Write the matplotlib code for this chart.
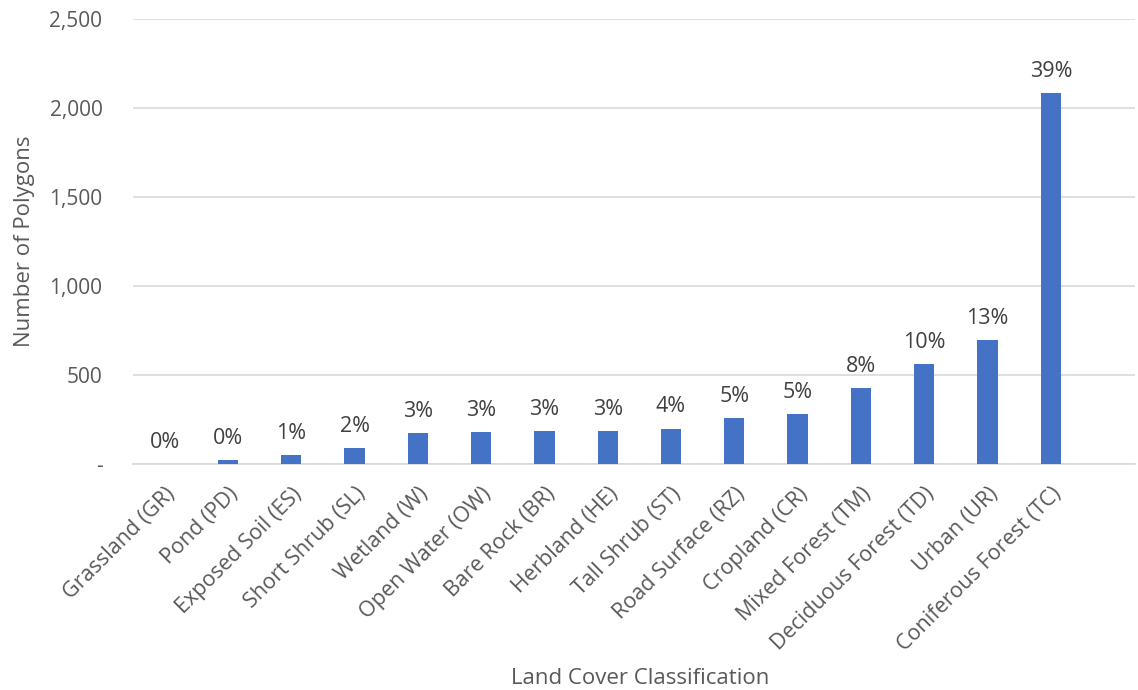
import matplotlib
matplotlib.use("Agg")
import matplotlib.pyplot as plt
from matplotlib.ticker import FuncFormatter

categories = ["Grassland (GR)", "Pond (PD)", "Exposed Soil (ES)", "Short Shrub (SL)",
              "Wetland (W)", "Open Water (OW)", "Bare Rock (BR)", "Herbland (HE)",
              "Tall Shrub (ST)", "Road Surface (RZ)", "Cropland (CR)", "Mixed Forest (TM)",
              "Deciduous Forest (TD)", "Urban (UR)", "Coniferous Forest (TC)"]
counts = [1, 22, 52, 90, 172, 178, 184, 187, 199, 260, 282, 426, 559, 697, 2085]
pct_labels = ["0%", "0%", "1%", "2%", "3%", "3%", "3%", "3%", "4%", "5%", "5%",
              "8%", "10%", "13%", "39%"]
yticks = [0, 500, 1000, 1500, 2000, 2500]

FONT = "Open Sans"
TXT = "#595959"
plt.rcParams["font.family"] = [FONT, "DejaVu Sans"]

fig = plt.figure(figsize=(11.38, 6.9), dpi=100)
ax = fig.add_axes([133/1138, 1 - 464/690, (1135-133)/1138, (464-19)/690])

x = list(range(len(categories)))
bars = ax.bar(x, counts, width=0.32, color="#4472C4", zorder=3)
for xi, v, lab in zip(x, counts, pct_labels):
    ax.annotate(lab, (xi, v), xytext=(0, 8), textcoords="offset points",
                ha="center", va="bottom", fontsize=15.5, color="#404040")

ax.set_xlim(-0.5, 15.33)
ax.set_ylim(0, 2500)
ax.set_yticks(yticks)
ax.yaxis.set_major_formatter(FuncFormatter(lambda v, p: "-" if v == 0 else f"{int(v):,}"))
ax.grid(axis="y", color="#D9D9D9", linewidth=1.2, zorder=0)
ax.set_axisbelow(True)
for s in ["top", "right", "left"]:
    ax.spines[s].set_visible(False)
ax.spines["bottom"].set_color("#D9D9D9")
ax.spines["bottom"].set_linewidth(1.2)
ax.tick_params(axis="both", length=0, colors=TXT, labelsize=15)
ax.tick_params(axis="y", pad=22)
ax.set_xticks(x)
ax.set_xticklabels(categories, rotation=45, ha="right", va="top",
                   rotation_mode="anchor", fontsize=15.5, color=TXT)
ax.tick_params(axis="x", pad=14)

ax.set_ylabel("Number of Polygons", fontsize=16, color=TXT, labelpad=10)
fig.text(640/1138, 1 - 678/690, "Land Cover Classification", ha="center", va="center",
         fontsize=16, color=TXT)

fig.savefig("out.png", dpi=100)
